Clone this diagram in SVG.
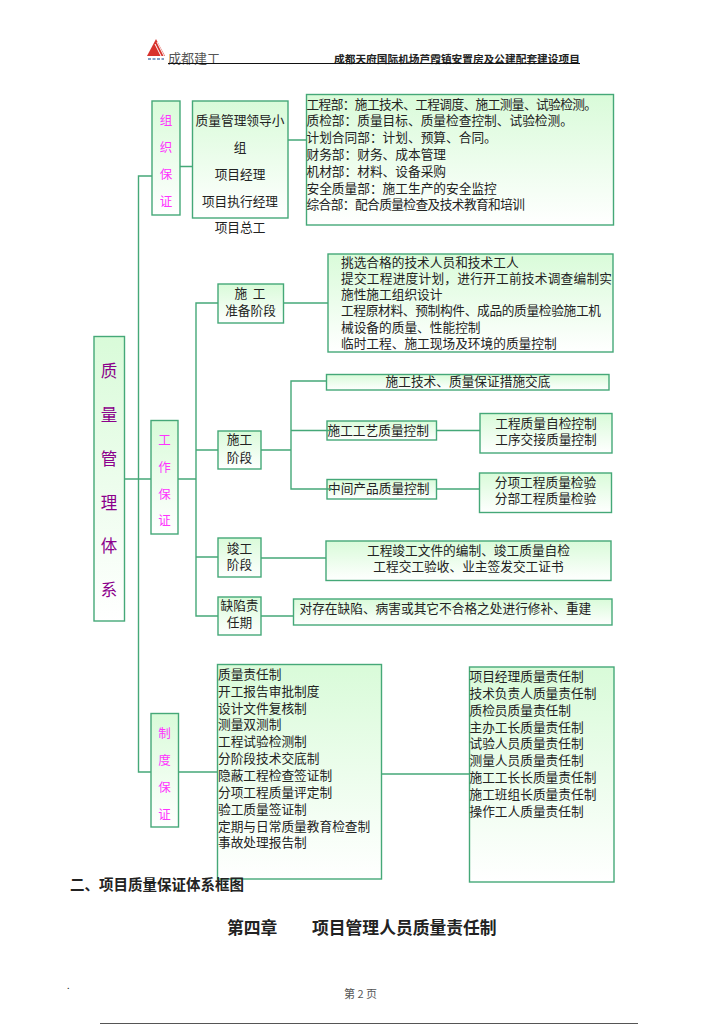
<svg xmlns="http://www.w3.org/2000/svg" width="724" height="1024" viewBox="0 0 724 1024">
<style>
text{font-family:"Noto Sans CJK SC","Noto Sans",sans-serif;font-size:12.7px;fill:#222}
.c{text-anchor:middle}
.box{fill:url(#g);stroke:#45a878;stroke-width:1.4}
.m{fill:#ff33ff;font-size:12.5px;text-anchor:middle}
.p{fill:#8b008b;font-size:16.500px;text-anchor:middle}
.ln{stroke:#45a878;stroke-width:1.4;fill:none}
.b{font-weight:700}
</style>
<defs><linearGradient id="g" x1="0" y1="0" x2="0" y2="1"><stop offset="0" stop-color="#d9fbd9"/><stop offset="1" stop-color="#ffffff"/></linearGradient></defs>
<rect width="724" height="1024" fill="#fff"/>

<g id="header">
<polygon points="156,39 147,56 165,56" fill="#d8322c"/>
<path d="M155,44L161,56M157,42L164,56" stroke="#fff" stroke-width="1" fill="none"/>
<path d="M148,59H164" stroke="#5a7fb0" stroke-width="1.5" stroke-dasharray="3 1.5" fill="none"/>
<text x="168" y="63" style="font-size:13px;fill:#555">成都建工</text>
<text x="334" y="63" class="b" style="font-size:10.7px">成都天府国际机场芦霞镇安置房及公建配套建设项目</text>
<line x1="168" y1="63.5" x2="580" y2="63.5" stroke="#111" stroke-width="1"/>
</g>

<g id="n-root"><rect class="box" x="94" y="336.500" width="30.500" height="284.500"/>
<text class="p" x="109" y="377">质</text><text class="p" x="109" y="421">量</text><text class="p" x="109" y="465">管</text><text class="p" x="109" y="509">理</text><text class="p" x="109" y="552">体</text><text class="p" x="109" y="596">系</text></g>

<g id="n-org"><rect class="box" x="152" y="101" width="28" height="114"/>
<text class="m" x="166" y="125">组</text><text class="m" x="166" y="152">织</text><text class="m" x="166" y="179">保</text><text class="m" x="166" y="206">证</text></g>

<g id="n-lead"><rect class="box" x="192.500" y="101" width="95.500" height="117"/>
<text class="c" x="240" y="125">质量管理领导小</text><text class="c" x="240" y="152">组</text><text class="c" x="240" y="179">项目经理</text><text class="c" x="240" y="206">项目执行经理</text><text class="c" x="240" y="232">项目总工</text></g>

<g id="n-dept"><rect class="box" x="306.500" y="94.500" width="307" height="130.500"/>
<text x="306.500" y="109" textLength="290.500">工程部&#xFF1A;施工技术、工程调度、施工测量、试验检测。</text>
<text x="306.500" y="125">质检部&#xFF1A;质量目标、质量检查控制、试验检测。</text>
<text x="306.500" y="142">计划合同部&#xFF1A;计划、预算、合同。</text>
<text x="306.500" y="159">财务部&#xFF1A;财务、成本管理</text>
<text x="306.500" y="176">机材部&#xFF1A;材料、设备采购</text>
<text x="306.500" y="193">安全质量部&#xFF1A;施工生产的安全监控</text>
<text x="306.500" y="209" textLength="218.500">综合部&#xFF1A;配合质量检查及技术教育和培训</text></g>

<g id="n-work"><rect class="box" x="151" y="420.500" width="27" height="113.500"/>
<text class="m" x="164.500" y="445">工</text><text class="m" x="164.500" y="472">作</text><text class="m" x="164.500" y="499">保</text><text class="m" x="164.500" y="525">证</text></g>

<g id="n-prep"><rect class="box" x="218" y="284" width="65.500" height="39"/>
<text class="c" x="250" y="298" xml:space="preserve">施  工</text><text class="c" x="250.500" y="315">准备阶段</text></g>

<g id="n-prep-d"><rect class="box" x="328" y="254" width="285" height="98"/>
<text x="341" y="267">挑选合格的技术人员和技术工人</text>
<text x="341" y="283" textLength="271">提交工程进度计划&#xFF0C;进行开工前技术调查编制实</text>
<text x="341" y="299">施性施工组织设计</text>
<text x="341" y="315" textLength="260">工程原材料、预制构件、成品的质量检验施工机</text>
<text x="341" y="332">械设备的质量、性能控制</text>
<text x="341" y="348">临时工程、施工现场及环境的质量控制</text></g>

<g id="n-cons"><rect class="box" x="218" y="431" width="43" height="38"/>
<text class="c" x="239.500" y="444">施工</text><text class="c" x="239.500" y="462">阶段</text></g>

<g id="n-tech"><rect class="box" x="326.500" y="374.500" width="282.500" height="15.500"/>
<text class="c" x="468" y="386">施工技术、质量保证措施交底</text></g>

<g id="n-proc"><rect class="box" x="327" y="421" width="109.500" height="19"/>
<text x="327.500" y="435">施工工艺质量控制</text></g>

<g id="n-proc-d"><rect class="box" x="480" y="413.500" width="132" height="39.500"/>
<text class="c" x="546" y="428">工程质量自检控制</text><text class="c" x="546" y="444">工序交接质量控制</text></g>

<g id="n-mid"><rect class="box" x="327" y="479.500" width="109.500" height="19.500"/>
<text x="328" y="493">中间产品质量控制</text></g>

<g id="n-mid-d"><rect class="box" x="479.500" y="473" width="132" height="39.500"/>
<text class="c" x="545.500" y="487">分项工程质量检验</text><text class="c" x="545.500" y="503">分部工程质量检验</text></g>

<g id="n-done"><rect class="box" x="218" y="538" width="43" height="39"/>
<text class="c" x="239.500" y="553">竣工</text><text class="c" x="239.500" y="569">阶段</text></g>

<g id="n-done-d"><rect class="box" x="326" y="541" width="285" height="39.500"/>
<text class="c" x="468.500" y="555">工程竣工文件的编制、竣工质量自检</text><text class="c" x="468.500" y="571">工程交工验收、业主签发交工证书</text></g>

<g id="n-defect"><rect class="box" x="218" y="597" width="43" height="38"/>
<text class="c" x="239.500" y="610">缺陷责</text><text class="c" x="239.500" y="627">任期</text></g>

<g id="n-defect-d"><rect class="box" x="293.500" y="599" width="318.500" height="26"/>
<text x="299.500" y="613">对存在缺陷、病害或其它不合格之处进行修补、重建</text></g>

<g id="n-sys"><rect class="box" x="151" y="713.500" width="27.500" height="113.500"/>
<text class="m" x="164.500" y="738">制</text><text class="m" x="164.500" y="765">度</text><text class="m" x="164.500" y="792">保</text><text class="m" x="164.500" y="819">证</text></g>

<g id="n-sys-l"><rect class="box" x="217.500" y="664.500" width="164" height="214.500"/>
<text x="218" y="678.500">质量责任制</text><text x="218" y="695.500">开工报告审批制度</text><text x="218" y="712.500">设计文件复核制</text><text x="218" y="728.500">测量双测制</text><text x="218" y="745.500">工程试验检测制</text><text x="218" y="762.500">分阶段技术交底制</text><text x="218" y="779.500">隐蔽工程检查签证制</text><text x="218" y="796.500">分项工程质量评定制</text><text x="218" y="813.500">验工质量签证制</text><text x="218" y="830.500">定期与日常质量教育检查制</text><text x="218" y="846.500">事故处理报告制</text></g>

<g id="n-sys-r"><rect class="box" x="469.500" y="667" width="144.500" height="215"/>
<text x="469.500" y="680.500">项目经理质量责任制</text><text x="469.500" y="697.500">技术负责人质量责任制</text><text x="469.500" y="714.500">质检员质量责任制</text><text x="469.500" y="731.500">主办工长质量责任制</text><text x="469.500" y="747.500">试验人员质量责任制</text><text x="469.500" y="764.500">测量人员质量责任制</text><text x="469.500" y="781.500">施工工长长质量责任制</text><text x="469.500" y="798.500">施工班组长质量责任制</text><text x="469.500" y="815.500">操作工人质量责任制</text></g>

<g id="connectors">
<path class="ln" d="M152,176H138.500V772H151"/>
<path class="ln" d="M124.500,479H151M178,479H196"/>
<path class="ln" d="M180,166.500H192.500M288,140H306.500"/>
<path class="ln" d="M218,303H196V616H218"/>
<path class="ln" d="M283.500,303H328"/>
<path class="ln" d="M196,450H218M196,557H218"/>
<path class="ln" d="M326.500,381H291V489H332M291,430.500H332M261,450H291"/>
<path class="ln" d="M436.500,430.500H480M436.500,489H479.500"/>
<path class="ln" d="M261,558H326M261,616H293.500"/>
<path class="ln" d="M178.500,772H217.500M381.500,774H469.500"/>
</g>

<g id="footer">
<text x="70" y="890" class="b" style="font-size:14.500px">二、项目质量保证体系框图</text>
<text x="227" y="934" class="b" style="font-size:16.800px">第四章</text>
<text x="312" y="934" class="b" style="font-size:16.800px">项目管理人员质量责任制</text>
<text x="344" y="998" style="font-size:11px;fill:#555">第 2 页</text>
<text x="67" y="989" style="font-size:9px">.</text>
<line x1="100" y1="1023.500" x2="638" y2="1023.500" stroke="#555" stroke-width="1"/>
</g>
</svg>
